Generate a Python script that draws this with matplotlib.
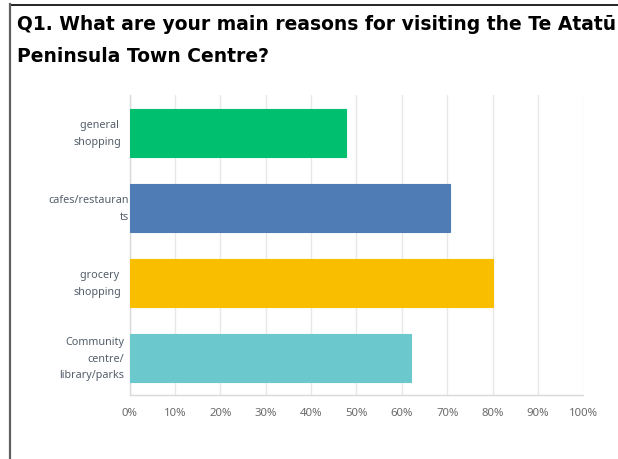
import matplotlib
matplotlib.use("Agg")
import matplotlib.pyplot as plt
from matplotlib.lines import Line2D
import matplotlib.transforms as mtransforms

categories = ["general \nshopping", "cafes/restauran\nts", "grocery \nshopping", "Community\ncentre/\nlibrary/parks"]
values = [47.7, 70.7, 80.1, 62.0]
colors = ["#00BF6F", "#507CB6", "#F9BE00", "#6BC8CD"]
xticks = [0, 10, 20, 30, 40, 50, 60, 70, 80, 90, 100]
xtick_labels = [f"{v}%" for v in xticks]
title_lines = ["Q1. What are your main reasons for visiting the Te Atatū", "Peninsula Town Centre?"]

W, H = 618, 459
fig = plt.figure(figsize=(W / 100, H / 100), dpi=100)
fig.patch.set_facecolor("white")

# axes in pixel coords
left, right, top, bottom = 129.5, 583.3, 95, 395
ax = fig.add_axes([left / W, 1 - bottom / H, (right - left) / W, (bottom - top) / H])

y = list(range(len(categories)))
ax.barh(y, values, height=0.64, color=colors, edgecolor=colors, linewidth=0.8, zorder=3)
ax.set_xlim(0, 100)
ax.set_ylim(len(categories) - 0.5, -0.5)

ax.set_xticks(xticks)
ax.set_xticklabels(xtick_labels, fontsize=8.2, color="#6b6b6b", family="Noto Sans")
ax.tick_params(axis="x", length=0, pad=9)
ax.set_yticks([])
ax.grid(axis="x", color="#e8e8e8", linewidth=1, zorder=0)
for s in ["top", "right"]:
    ax.spines[s].set_visible(False)
for s in ["left", "bottom"]:
    ax.spines[s].set_color("#d9d9d9")
    ax.spines[s].set_linewidth(1)

# category labels with per-label right-edge offsets (pixels left of axis)
offsets = [8.0, 0.5, 8.0, 5.0]
for yi, lab, off in zip(y, categories, offsets):
    tr = mtransforms.offset_copy(ax.get_yaxis_transform(), fig=fig, x=-off, y=-1.5, units="dots")
    ax.text(0, yi, lab, transform=tr, ha="right", va="center", multialignment="right",
            fontsize=7.8, color="#545e6b", family="Noto Sans", linespacing=1.65)

# title, sized to span the reference width
t1 = fig.text(17 / W, 1 - 24.5 / H, title_lines[0], fontsize=13.0, fontweight="bold",
              family="DejaVu Sans", va="center", ha="left", color="black")
fig.canvas.draw()
wpx = t1.get_window_extent().width
fs = 13.0 * 595.0 / wpx
t1.set_fontsize(fs)
fig.text(17 / W, 1 - 56.5 / H, title_lines[1], fontsize=fs, fontweight="bold",
         family="DejaVu Sans", va="center", ha="left", color="black")

# frame lines
fig.add_artist(Line2D([10 / W, 1], [1 - 4.5 / H, 1 - 4.5 / H], color="#111111", linewidth=1.3,
                      transform=fig.transFigure))
fig.add_artist(Line2D([10 / W, 10 / W], [1 - 4 / H, 0], color="#606060", linewidth=1.6,
                      transform=fig.transFigure))

fig.savefig("out.png", dpi=100, facecolor="white")
